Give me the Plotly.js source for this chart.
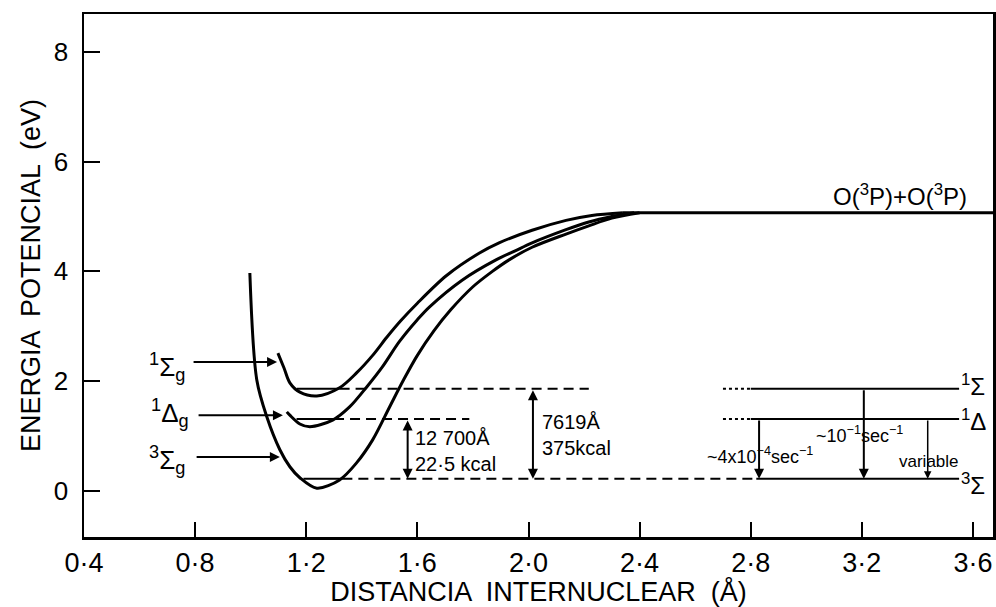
<!DOCTYPE html>
<html>
<head>
<meta charset="utf-8">
<script src="https://cdn.plot.ly/plotly-3.0.1.min.js"></script>
<style>html,body{margin:0;padding:0;background:#fff;}#plot{width:996px;height:607px;}</style>
</head>
<body>
<div id="plot"></div>
<script>
// ---------- data ----------
// 1Σg potential curve
const sigma1R = [1.098,1.12,1.141,1.177,1.238,1.32,1.381,1.439,1.49,1.54,1.60,1.704,1.822,1.894,2.013,2.135,2.228,2.34];
const sigma1E = [2.51,2.24,1.97,1.80,1.73,1.88,2.15,2.47,2.80,3.10,3.42,3.92,4.33,4.52,4.75,4.93,5.02,5.07];
// 1Δg potential curve
const deltaR = [1.130,1.141,1.177,1.213,1.295,1.356,1.417,1.474,1.535,1.60,1.643,1.761,1.883,1.95,2.013,2.135,2.217,2.30,2.38];
const deltaE = [1.44,1.38,1.22,1.17,1.29,1.53,1.89,2.26,2.72,3.12,3.35,3.84,4.21,4.37,4.52,4.76,4.90,5.00,5.07];
// 3Σg ground-state curve
const groundR = [0.997,1.022,1.058,1.105,1.141,1.177,1.238,1.32,1.381,1.439,1.50,1.55,1.60,1.66,1.72,1.80,1.87,1.93,2.013,2.135,2.217,2.30,2.40];
const groundE = [3.97,2.02,1.35,0.75,0.44,0.24,0.05,0.20,0.51,0.93,1.53,2.02,2.47,2.92,3.30,3.72,4.00,4.21,4.44,4.68,4.83,4.97,5.07];
// dissociation limit O(3P)+O(3P)
const limitR = [2.34, 3.672];
const limitE = [5.07, 5.07];

// vibrational levels: 1Σg, 1Δg, 3Σg
const levelE     = [1.86, 1.31, 0.22];
const wellLeft   = [1.166, 1.165, 1.19];
const wellRight  = [1.32, 1.30, 1.33];
const dashEnd    = [2.217, 1.787, 2.82];
const rightStart = [2.70, 2.70, 2.82];
const dotEnd     = [2.80, 2.80, 2.82];
const rightEnd   = [3.55, 3.55, 3.55];

// transition arrows between levels
const absR = [1.565, 2.016];          // double arrows (from level index 1 and 0 to 2)
const absFrom = [1, 0];
const emisR = [2.83, 3.207, 3.437];   // emission arrows on the right
const emisFrom = [1, 0, 1];

// labels
const stateLabels = ['<sup>1</sup>Σ<sub>g</sub>', '<sup>1</sup>Δ<sub>g</sub>', '<sup>3</sup>Σ<sub>g</sub>'];
const stateLabelR = [0.70, 0.71, 0.70];
const stateLabelE = [2.26, 1.42, 0.56];
const stateArrowE = [2.35, 1.38, 0.62];
const stateArrowFrom = [0.789, 0.807, 0.80];
const stateArrowTo = [1.095, 1.116, 1.105];
const rightLabels = ['<sup>1</sup>Σ', '<sup>1</sup>Δ', '<sup>3</sup>Σ'];
const rightLabelR = [3.60, 3.60, 3.60];
const rightLabelE = [1.93, 1.29, 0.13];
const absTexts = ['12 700Å<br>22·5 kcal', '7619Å<br>375kcal'];
const absTextR = [1.585, 2.04];
const absTextE = [0.72, 1.02];
const emisTexts = ['~4x10<sup>−4</sup>sec<sup>−1</sup>', '~10<sup>−1</sup>sec<sup>−1</sup>', 'variable'];
const emisTextR = [2.835, 3.193, 3.44];
const emisTextE = [0.64, 1.02, 0.53];
const limitText = 'O(<sup>3</sup>P)+O(<sup>3</sup>P)';
const limitTextR = 3.587, limitTextE = 5.39;

const xTicks = [0.4,0.8,1.2,1.6,2.0,2.4,2.8,3.2,3.6];
const xTickText = ['0·4','0·8','1·2','1·6','2·0','2·4','2·8','3·2','3·6'];
const yTicks = [0,2,4,6,8];

// ---------- build traces ----------
const FONT = 'Liberation Sans, Arial, sans-serif';
const traces = [];
const curve = (r, e) => ({x: r, y: e, mode: 'lines', line: {color: '#000', width: 3, shape: 'spline', smoothing: 0.9}, hoverinfo: 'skip'});
traces.push(curve(sigma1R, sigma1E));
traces.push(curve(deltaR, deltaE));
traces.push(curve(groundR, groundE));
traces.push({x: limitR, y: limitE, mode: 'lines', line: {color: '#000', width: 3}, hoverinfo: 'skip'});

for (let i = 0; i < levelE.length; i++) {
  const e = levelE[i];
  traces.push({x: [wellLeft[i], wellRight[i]], y: [e, e], mode: 'lines', line: {color: '#000', width: 2}, hoverinfo: 'skip'});
  traces.push({x: [wellRight[i], dashEnd[i]], y: [e, e], mode: 'lines', line: {color: '#000', width: 2, dash: '10px,6px'}, hoverinfo: 'skip'});
  traces.push({x: [rightStart[i], dotEnd[i]], y: [e, e], mode: 'lines', line: {color: '#000', width: 2, dash: 'dot'}, hoverinfo: 'skip'});
  traces.push({x: [dotEnd[i], rightEnd[i]], y: [e, e], mode: 'lines', line: {color: '#000', width: 2}, hoverinfo: 'skip'});
}

const annotations = [];
// double arrows
for (let i = 0; i < absR.length; i++) {
  annotations.push({x: absR[i], y: levelE[2], ax: absR[i], ay: levelE[absFrom[i]], xref: 'x', yref: 'y', axref: 'x', ayref: 'y',
    text: '', showarrow: true, arrowhead: 2, startarrowhead: 2, arrowside: 'end+start', arrowsize: 1, startarrowsize: 1, arrowwidth: 2, arrowcolor: '#000', standoff: 0, startstandoff: 0});
  annotations.push({x: absTextR[i], y: absTextE[i], xref: 'x', yref: 'y', text: absTexts[i], showarrow: false,
    xanchor: 'left', yanchor: 'middle', align: 'left', font: {family: FONT, size: 20, color: '#000'}});
}
// emission arrows
for (let i = 0; i < emisR.length; i++) {
  annotations.push({x: emisR[i], y: levelE[2], ax: emisR[i], ay: levelE[emisFrom[i]], xref: 'x', yref: 'y', axref: 'x', ayref: 'y',
    text: '', showarrow: true, arrowhead: 2, arrowsize: 1, arrowwidth: i === 2 ? 1.5 : 2, arrowcolor: '#000', standoff: 0});
  annotations.push({x: emisTextR[i], y: emisTextE[i], xref: 'x', yref: 'y', text: emisTexts[i], showarrow: false,
    xanchor: 'center', yanchor: 'middle', font: {family: FONT, size: i === 2 ? 17 : 18, color: '#000'}});
}
// state labels with pointer arrows
for (let i = 0; i < stateLabels.length; i++) {
  annotations.push({x: stateLabelR[i], y: stateLabelE[i], xref: 'x', yref: 'y', text: stateLabels[i], showarrow: false,
    xanchor: 'center', yanchor: 'middle', font: {family: FONT, size: 26, color: '#000'}});
  annotations.push({x: stateArrowTo[i], y: stateArrowE[i], ax: stateArrowFrom[i], ay: stateArrowE[i], xref: 'x', yref: 'y', axref: 'x', ayref: 'y',
    text: '', showarrow: true, arrowhead: 2, arrowsize: 1, arrowwidth: 2, arrowcolor: '#000', standoff: 0});
  annotations.push({x: rightLabelR[i], y: rightLabelE[i], xref: 'x', yref: 'y', text: rightLabels[i], showarrow: false,
    xanchor: 'center', yanchor: 'middle', font: {family: FONT, size: 24, color: '#000'}});
}
annotations.push({x: limitTextR, y: limitTextE, xref: 'x', yref: 'y', text: limitText, showarrow: false,
  xanchor: 'right', yanchor: 'middle', font: {family: FONT, size: 24, color: '#000'}});

const layout = {
  width: 996, height: 607,
  margin: {l: 84, r: 3, t: 14, b: 70, pad: 0},
  paper_bgcolor: '#fff', plot_bgcolor: '#fff',
  showlegend: false,
  font: {family: FONT, color: '#000'},
  xaxis: {
    range: [0.4, 3.672], tickvals: xTicks, ticktext: xTickText,
    ticks: 'inside', ticklen: 15, tickwidth: 2, tickcolor: '#000',
    showline: true, linewidth: 2.5, linecolor: '#000', mirror: true,
    showgrid: false, zeroline: false,
    tickfont: {family: FONT, size: 27, color: '#000'},
    title: {text: 'DISTANCIA  INTERNUCLEAR  (Å)', font: {family: FONT, size: 27, color: '#000'}, standoff: 6},
    automargin: false
  },
  yaxis: {
    range: [-0.84, 8.69], tickvals: yTicks,
    ticks: 'inside', ticklen: 16, tickwidth: 2, tickcolor: '#000',
    showline: true, linewidth: 2.5, linecolor: '#000', mirror: true,
    showgrid: false, zeroline: false,
    tickfont: {family: FONT, size: 26, color: '#000'},
    ticklabelstandoff: 8,
    title: {text: 'ENERGIA  POTENCIAL  (eV)', font: {family: FONT, size: 27, color: '#000'}, standoff: 6},
    automargin: false
  },
  annotations: annotations
};

Plotly.newPlot('plot', traces, layout, {staticPlot: true, displayModeBar: false});
</script>
</body>
</html>
